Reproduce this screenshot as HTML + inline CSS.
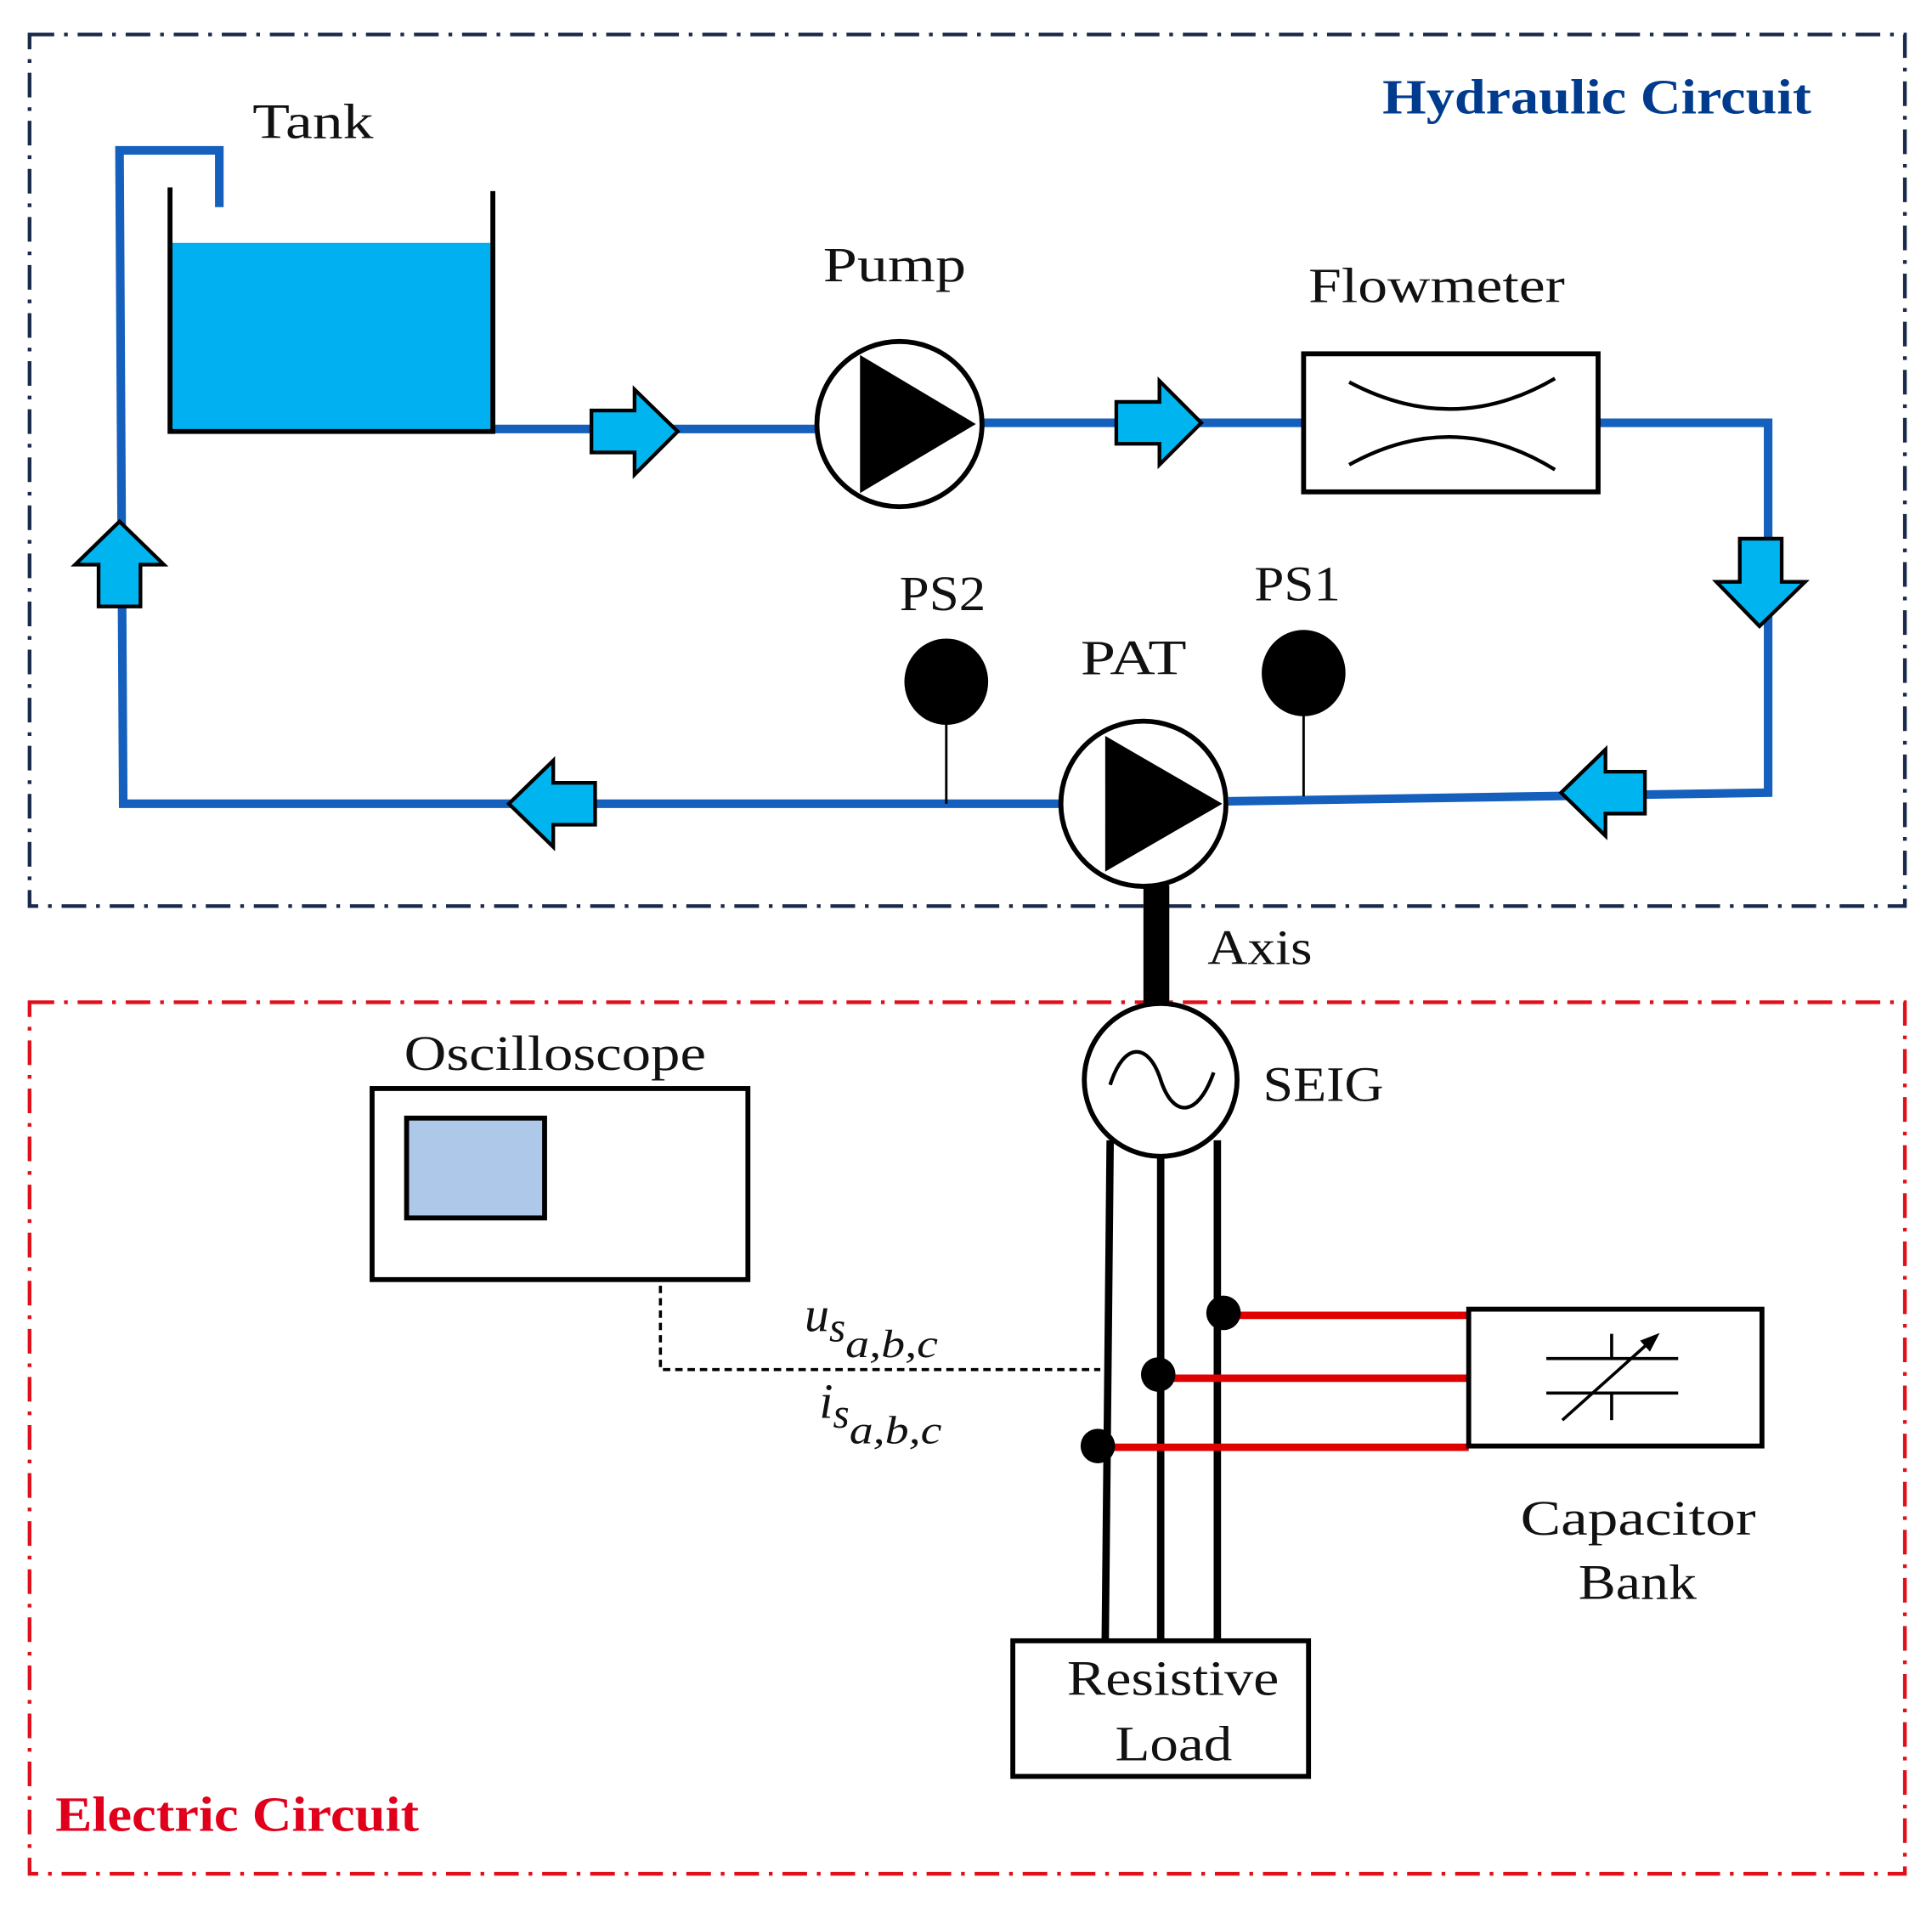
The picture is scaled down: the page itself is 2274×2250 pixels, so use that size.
<!DOCTYPE html>
<html><head><meta charset="utf-8"><style>
html,body{margin:0;padding:0;background:#fff;width:2274px;height:2250px;overflow:hidden}
svg{display:block}
text{font-family:"Liberation Serif",serif;fill:#111}
</style></head><body>
<svg width="2274" height="2250" viewBox="0 0 1568 1551" preserveAspectRatio="none" xmlns="http://www.w3.org/2000/svg">
<defs>
<marker id="ah" markerWidth="20" markerHeight="20" refX="12" refY="6" orient="auto" markerUnits="userSpaceOnUse"><path d="M0,0 L16,6 L0,12 z" fill="#000"/></marker>
</defs>
<rect x="24" y="28" width="1522" height="707" fill="none" stroke="#1a2a4a" stroke-width="3" stroke-dasharray="20,8,3,8"/>
<rect x="24" y="813" width="1522" height="707" fill="none" stroke="#e0101b" stroke-width="3" stroke-dasharray="20,8,3,8"/>
<text x="1122" y="92" textLength="348" lengthAdjust="spacingAndGlyphs" font-size="40" font-weight="bold" style="fill:#003b8e">Hydraulic Circuit</text>
<text x="45" y="1485" textLength="295" lengthAdjust="spacingAndGlyphs" font-size="40" font-weight="bold" style="fill:#e0001b">Electric Circuit</text>

<g stroke="#1560bd" stroke-width="7" fill="none" stroke-linejoin="miter">
<polyline points="178,168 178,122 97,122 100,652 860,652"/>
<line x1="400" y1="348" x2="662" y2="348"/>
<line x1="797" y1="343" x2="1058" y2="343"/>
<polyline points="1297,343 1435,343 1435,643 997,650"/>
</g>
<rect x="140" y="197" width="258" height="153" fill="#00b0f0"/>
<polyline points="138,152 138,350 400,350 400,155" fill="none" stroke="#000" stroke-width="4"/>
<text x="205" y="112" textLength="98" lengthAdjust="spacingAndGlyphs" font-size="40">Tank</text>

<g fill="#00b4f0" stroke="#000" stroke-width="3" stroke-linejoin="miter">
<path d="M480,333 L515,333 L515,316 L550,350 L515,385 L515,367 L480,367 z"/>
<path d="M906,326 L941,326 L941,309 L975,343 L941,377 L941,360 L906,360 z"/>
<path d="M1412,437 L1446,437 L1446,472 L1465,472 L1428,508 L1393,472 L1412,472 z"/>
<path d="M1335,626 L1303,626 L1303,608 L1267,643 L1303,678 L1303,660 L1335,660 z"/>
<path d="M483,635 L449,635 L449,617 L413,652 L449,687 L449,669 L483,669 z"/>
<path d="M80,492 L114,492 L114,458 L133,458 L97,423 L61,458 L80,458 z"/>
</g>

<circle cx="730" cy="344" r="67" fill="#fff" stroke="#000" stroke-width="4"/>
<path d="M698,288 L792,344 L698,400 z" fill="#000"/>
<text x="668" y="228" textLength="116" lengthAdjust="spacingAndGlyphs" font-size="40">Pump</text>
<rect x="1058" y="287" width="239" height="112" fill="#fff" stroke="#000" stroke-width="4"/>
<path d="M1095,310 Q1180,355 1262,307" fill="none" stroke="#000" stroke-width="3"/>
<path d="M1095,377 Q1180,330 1262,381" fill="none" stroke="#000" stroke-width="3"/>
<text x="1062" y="245" textLength="208" lengthAdjust="spacingAndGlyphs" font-size="40">Flowmeter</text>

<line x1="768" y1="585" x2="768" y2="652" stroke="#000" stroke-width="2"/>
<ellipse cx="768" cy="553" rx="34" ry="35" fill="#000"/>
<line x1="1058" y1="578" x2="1058" y2="646" stroke="#000" stroke-width="2"/>
<ellipse cx="1058" cy="546" rx="34" ry="35" fill="#000"/>
<text x="730" y="495" textLength="70" lengthAdjust="spacingAndGlyphs" font-size="40">PS2</text>
<text x="1018" y="487" textLength="70" lengthAdjust="spacingAndGlyphs" font-size="40">PS1</text>
<text x="877" y="547" textLength="86" lengthAdjust="spacingAndGlyphs" font-size="40">PAT</text>

<rect x="928" y="718" width="21" height="97" fill="#000"/>
<circle cx="928" cy="652" r="67" fill="#fff" stroke="#000" stroke-width="4"/>
<path d="M897,597 L992,652 L897,707 z" fill="#000"/>
<text x="980" y="782" textLength="85" lengthAdjust="spacingAndGlyphs" font-size="40">Axis</text>

<g stroke="#000" stroke-width="6">
<line x1="901" y1="925" x2="897" y2="1331"/>
<line x1="942" y1="935" x2="942" y2="1331"/>
<line x1="988" y1="925" x2="988" y2="1331"/>
</g>
<circle cx="942" cy="876" r="62" fill="#fff" stroke="#000" stroke-width="4"/>
<path d="M901,880 C912,845 932,845 942,876 C952,907 972,907 985,870" fill="none" stroke="#000" stroke-width="3"/>
<text x="1025" y="893" textLength="98" lengthAdjust="spacingAndGlyphs" font-size="40">SEIG</text>

<g stroke="#e00000" stroke-width="6">
<line x1="993" y1="1067" x2="1192" y2="1067"/>
<line x1="940" y1="1118" x2="1192" y2="1118"/>
<line x1="891" y1="1174" x2="1192" y2="1174"/>
</g>
<ellipse cx="993" cy="1065" rx="14" ry="14" fill="#000"/>
<ellipse cx="940" cy="1115" rx="14" ry="14" fill="#000"/>
<ellipse cx="891" cy="1173" rx="14" ry="14" fill="#000"/>

<rect x="1192" y="1062" width="238" height="111" fill="#fff" stroke="#000" stroke-width="4"/>
<g stroke="#000" stroke-width="2.5">
<line x1="1255" y1="1102" x2="1362" y2="1102"/>
<line x1="1255" y1="1130" x2="1362" y2="1130"/>
<line x1="1308" y1="1082" x2="1308" y2="1102"/>
<line x1="1308" y1="1130" x2="1308" y2="1152"/>
<line x1="1268" y1="1152" x2="1344" y2="1084" marker-end="url(#ah)"/>
</g>
<text x="1234" y="1245" textLength="191" lengthAdjust="spacingAndGlyphs" font-size="40">Capacitor</text>
<text x="1281" y="1297" textLength="96" lengthAdjust="spacingAndGlyphs" font-size="40">Bank</text>

<rect x="302" y="883" width="305" height="155" fill="#fff" stroke="#000" stroke-width="4"/>
<rect x="330" y="907" width="112" height="81" fill="#adc8e8" stroke="#000" stroke-width="4"/>
<text x="328" y="868" textLength="245" lengthAdjust="spacingAndGlyphs" font-size="40">Oscilloscope</text>
<polyline points="536,1043 536,1111 893,1111" fill="none" stroke="#000" stroke-width="2.5" stroke-dasharray="6,4"/>
<text x="653" y="1080" font-size="40" font-style="italic">u<tspan font-size="34" dy="8">s</tspan><tspan font-size="32" dy="13" textLength="75" lengthAdjust="spacingAndGlyphs">a,b,c</tspan></text>
<text x="665" y="1150" font-size="40" font-style="italic">i<tspan font-size="34" dy="8">s</tspan><tspan font-size="32" dy="13" textLength="75" lengthAdjust="spacingAndGlyphs">a,b,c</tspan></text>

<rect x="822" y="1331" width="240" height="110" fill="#fff" stroke="#000" stroke-width="4"/>
<text x="866" y="1375" textLength="172" lengthAdjust="spacingAndGlyphs" font-size="40">Resistive</text>
<text x="905" y="1428" textLength="95" lengthAdjust="spacingAndGlyphs" font-size="40">Load</text>
</svg>
</body></html>
